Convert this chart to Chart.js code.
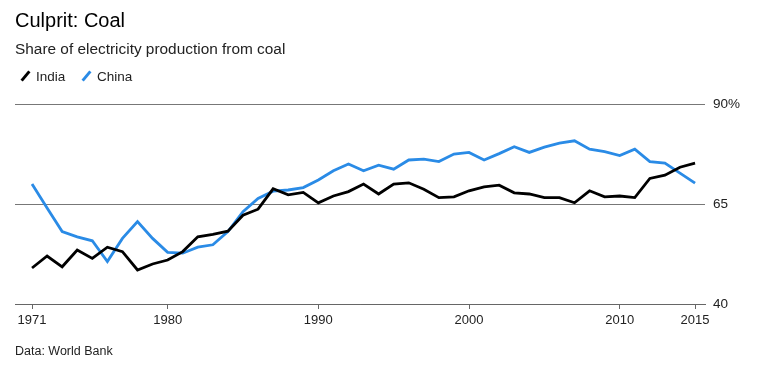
<!DOCTYPE html>
<html>
<head>
<meta charset="utf-8">
<script src="https://cdn.jsdelivr.net/npm/chart.js@4"></script>
<style>
  body { margin: 0; background: #fff; font-family: "Liberation Sans", Arial, sans-serif; }
  #wrap { position: relative; width: 760px; height: 366px; }
  #chart { position: absolute; left: 0; top: 0; }
  .title { position: absolute; left: 15px; top: 9px; font-size: 20px; color: #000; }
  .subtitle { position: absolute; left: 15px; top: 40px; font-size: 15.4px; color: #222; }
  .legend { position: absolute; left: 24px; top: 69px; font-size: 13.5px; color: #222; }
  .legend span { display: inline-block; margin-right: 16px; }
  .legend i { display: inline-block; width: 3px; height: 12px; transform: rotate(40deg); margin-right: 9px; vertical-align: -1px; }
  .source { position: absolute; left: 15px; top: 344px; font-size: 12.5px; color: #222; }
</style>
</head>
<body>
<div id="wrap">
  <canvas id="chart" width="760" height="366"></canvas>
  <div class="title">Culprit: Coal</div>
  <div class="subtitle">Share of electricity production from coal</div>
  <div class="legend">
    <span><i style="background:#000"></i>India</span>
    <span><i style="background:#2a8be6"></i>China</span>
  </div>
  <div class="source">Data: World Bank</div>
</div>
<script>
var years = [];
for (var y = 1971; y <= 2015; y++) years.push(y);

var india = [49, 52, 49.3, 53.5, 51.4, 54.2, 53.1, 48.5, 50, 51,
  53.1, 56.8, 57.4, 58.2, 62.2, 63.7, 68.8, 67.3, 67.9, 65.3,
  67, 68.1, 70, 67.5, 70, 70.3, 68.7, 66.6, 66.8, 68.3,
  69.3, 69.7, 67.8, 67.5, 66.6, 66.6, 65.3, 68.3, 66.8, 67,
  66.6, 71.4, 72.2, 74.2, 75.2];

var china = [70, 64, 58.1, 56.8, 55.8, 50.6, 56.4, 60.6, 56.4, 52.9,
  52.7, 54.2, 54.8, 58.1, 63.1, 66.4, 68.2, 68.5, 69.1, 71,
  73.3, 75, 73.3, 74.7, 73.7, 76, 76.2, 75.6, 77.5, 77.9,
  76, 77.6, 79.3, 77.9, 79.2, 80.2, 80.8, 78.7, 78.1, 77.1,
  78.7, 75.6, 75.2, 72.7, 70.2];

var xTicks = [1971, 1980, 1990, 2000, 2010, 2015];
var yTicks = [40, 65, 90];

function toPoints(vals) {
  return vals.map(function(v, i) { return { x: years[i], y: v }; });
}

var ctx = document.getElementById('chart').getContext('2d');
new Chart(ctx, {
  type: 'line',
  data: {
    datasets: [{
      label: 'India',
      data: toPoints(india),
      borderColor: '#000',
      borderWidth: 2.8,
      pointRadius: 0,
      tension: 0
    }, {
      label: 'China',
      data: toPoints(china),
      borderColor: '#2a8be6',
      borderWidth: 2.8,
      pointRadius: 0,
      tension: 0
    }]
  },
  options: {
    responsive: false,
    animation: false,
    layout: { padding: { top: 104, left: 15, right: 10, bottom: 30 } },
    plugins: { legend: { display: false }, tooltip: { enabled: false } },
    scales: {
      x: {
        type: 'linear',
        min: 1969.87,
        max: 2015.66,
        afterBuildTicks: function(scale) {
          scale.ticks = xTicks.map(function(v) { return { value: v }; });
        },
        afterFit: function(scale) { scale.height = 32; },
        grid: { drawOnChartArea: false, drawTicks: true, tickLength: 5, color: '#666' },
        border: { display: true, color: '#666' },
        ticks: {
          maxRotation: 0,
          padding: 4,
          color: '#222',
          font: { family: 'Liberation Sans', size: 13 },
          callback: function(v) { return String(v); }
        }
      },
      y: {
        position: 'right',
        min: 40,
        max: 90,
        afterBuildTicks: function(scale) {
          scale.ticks = yTicks.map(function(v) { return { value: v }; });
        },
        afterFit: function(scale) { scale.width = 45; },
        grid: { color: '#777', drawTicks: false },
        border: { display: false },
        ticks: {
          padding: 8,
          color: '#222',
          font: { family: 'Liberation Sans', size: 13.5 },
          callback: function(v) { return v === 90 ? '90%' : String(v); }
        }
      }
    }
  }
});
</script>
</body>
</html>
